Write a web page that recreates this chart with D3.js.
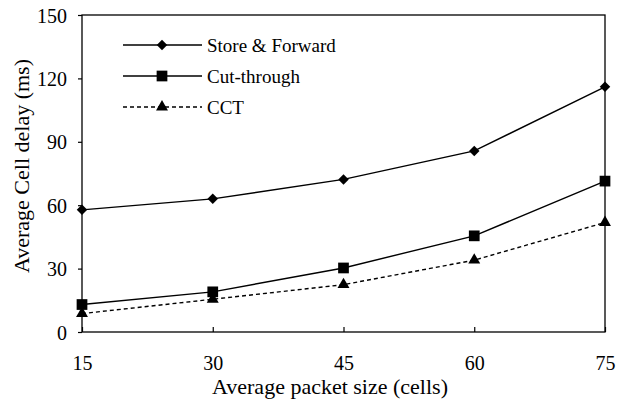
<!DOCTYPE html>
<html>
<head>
<meta charset="utf-8">
<script src="https://cdn.jsdelivr.net/npm/d3@7"></script>
</head>
<body style="margin:0">
<div id="chart"></div>
<script>
// data
var packetSizes = [ 15, 30, 45, 60, 75 ];
var storeForward = [ 57.8, 63, 72.2, 85.7, 116 ];
var cutThrough = [ 13, 19, 30.3, 45.5, 71.4 ];
var cct = [ 8.7, 15.5, 22.4, 34, 51.8 ];
var seriesNames = [ 'Store & Forward', 'Cut-through', 'CCT' ];
var yTicks = [ 0, 30, 60, 90, 120, 150 ];

var serifFont = 'Liberation Serif';
var plotL = 82, plotR = 605, plotT = 15, plotB = 332;

var svg = d3.select( '#chart' ).append( 'svg' )
	.attr( 'width', 618 )
	.attr( 'height', 401 );

var xScale = d3.scaleLinear().domain( [ 15, 75 ] ).range( [ plotL, plotR ] );
var yScale = d3.scaleLinear().domain( [ 0, 150 ] ).range( [ plotB, plotT ] );

// plot frame
svg.append( 'rect' )
	.attr( 'x', plotL ).attr( 'y', plotT )
	.attr( 'width', plotR - plotL ).attr( 'height', plotB - plotT )
	.attr( 'fill', 'none' ).attr( 'stroke', '#000' ).attr( 'stroke-width', 1.3 );

// y axis
var yAxis = d3.axisLeft( yScale ).tickValues( yTicks ).tickSize( 4 ).tickPadding( 11 );
var gy = svg.append( 'g' ).attr( 'transform', 'translate(' + plotL + ',0)' ).call( yAxis );
gy.select( '.domain' ).remove();
gy.selectAll( 'line' ).attr( 'stroke-width', 1.2 );
gy.selectAll( 'text' )
	.attr( 'font-family', serifFont )
	.attr( 'font-size', 20 )
	.attr( 'dy', '0.35em' );

// x axis, ticks point inward
var xAxis = d3.axisBottom( xScale ).tickValues( packetSizes ).tickSize( -5 ).tickPadding( 24 );
var gx = svg.append( 'g' ).attr( 'transform', 'translate(0,' + plotB + ')' ).call( xAxis );
gx.select( '.domain' ).remove();
gx.selectAll( 'line' ).attr( 'stroke-width', 1.2 );
gx.selectAll( 'text' )
	.attr( 'font-family', serifFont )
	.attr( 'font-size', 20 );

// axis titles
svg.append( 'text' )
	.attr( 'x', 330 ).attr( 'y', 394 )
	.attr( 'text-anchor', 'middle' )
	.attr( 'font-family', serifFont )
	.attr( 'font-size', 22 )
	.text( 'Average packet size (cells)' );

svg.append( 'text' )
	.attr( 'transform', 'translate(29,166) rotate(-90)' )
	.attr( 'text-anchor', 'middle' )
	.attr( 'font-family', serifFont )
	.attr( 'font-size', 22 )
	.text( 'Average Cell delay (ms)' );

var line = d3.line()
	.x( function( d, i ) { return xScale( packetSizes[ i ] ); } )
	.y( function( d ) { return yScale( d ); } );

var series = [ storeForward, cutThrough, cct ];
var shapes = [ d3.symbolDiamond2, d3.symbolSquare, d3.symbolTriangle ];
var sizes = [ 70, 115, 62 ];
var dashes = [ null, null, '4,3' ];

series.forEach( function( s, k ) {
	svg.append( 'path' )
		.datum( s )
		.attr( 'd', line )
		.attr( 'fill', 'none' )
		.attr( 'stroke', '#000' )
		.attr( 'stroke-width', 1.4 )
		.attr( 'stroke-dasharray', dashes[ k ] );

	svg.selectAll( '.m' + k )
		.data( s )
		.enter()
		.append( 'path' )
		.attr( 'class', 'm' + k )
		.attr( 'transform', function( d, i ) {
			return 'translate(' + xScale( packetSizes[ i ] ) + ',' + yScale( d ) + ')';
		} )
		.attr( 'd', d3.symbol().type( shapes[ k ] ).size( sizes[ k ] ) )
		.attr( 'fill', '#000' );
} );

// legend
var legendY = [ 45, 76, 107 ];
seriesNames.forEach( function( name, k ) {
	var g = svg.append( 'g' ).attr( 'transform', 'translate(0,' + legendY[ k ] + ')' );
	g.append( 'line' )
		.attr( 'x1', 123 ).attr( 'x2', 202 )
		.attr( 'stroke', '#000' ).attr( 'stroke-width', 1.4 )
		.attr( 'stroke-dasharray', dashes[ k ] );
	g.append( 'path' )
		.attr( 'transform', 'translate(162,0)' )
		.attr( 'd', d3.symbol().type( shapes[ k ] ).size( sizes[ k ] ) )
		.attr( 'fill', '#000' );
	g.append( 'text' )
		.attr( 'x', 207 ).attr( 'dy', '0.35em' )
		.attr( 'font-family', serifFont )
		.attr( 'font-size', 19 )
		.text( name );
} );
</script>
</body>
</html>
